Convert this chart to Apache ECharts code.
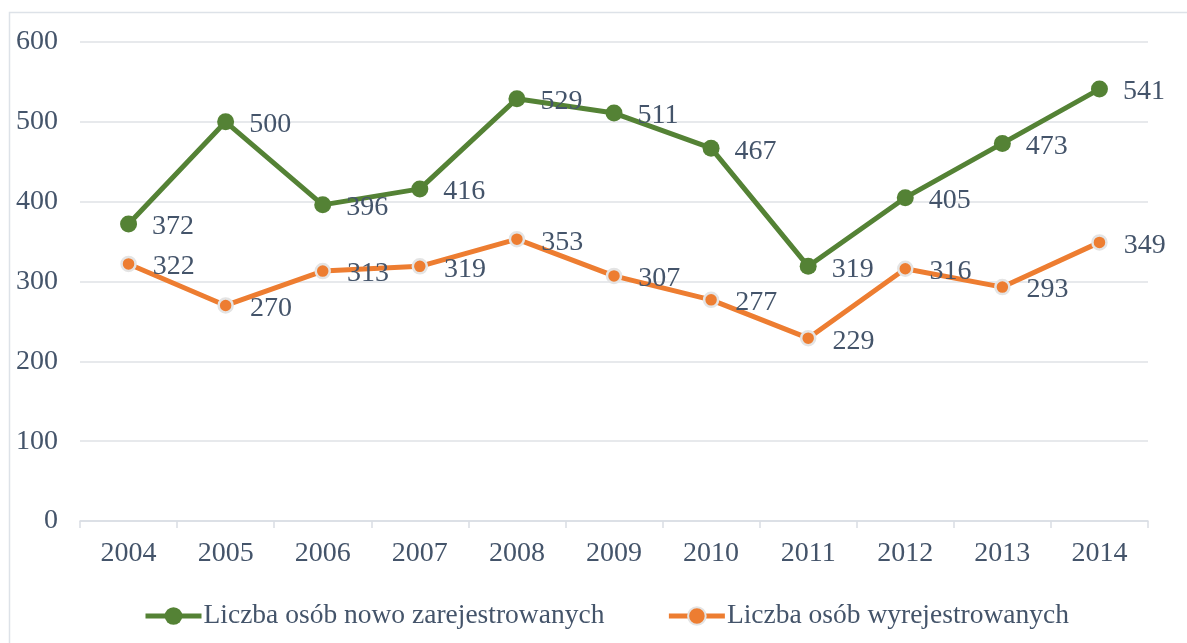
<!DOCTYPE html>
<html>
<head>
<meta charset="utf-8">
<script src="https://cdn.jsdelivr.net/npm/echarts@6/dist/echarts.min.js"></script>
<style>
html,body{margin:0;padding:0;background:#fff;}
#chart{width:1187px;height:643px;}
</style>
</head>
<body>
<div id="chart"></div>
<script>
const categories = ['2004','2005','2006','2007','2008','2009','2010','2011','2012','2013','2014'];
const newRegistered = [372,500,396,416,529,511,467,319,405,473,541];
const deregistered = [322,270,313,319,353,307,277,229,316,293,349];
const seriesNames = ['Liczba osób nowo zarejestrowanych','Liczba osób wyrejestrowanych'];

const textColor = '#44546A';
const fontFamily = '"Liberation Serif", "Times New Roman", serif';
const fs = 28;
const chart = echarts.init(document.getElementById('chart'));
chart.setOption({
  animation: false,
  backgroundColor: '#fff',
  graphic: [{
    type: 'rect', silent: true,
    shape: {x: 9.5, y: 12.5, width: 1200, height: 700},
    style: {fill: 'none', stroke: '#dde2e8', lineWidth: 1.5}
  }],
  grid: {left: 80, right: 39, top: 42, bottom: 122},
  legend: {
    left: 138, top: 597,
    itemWidth: 56, itemHeight: 22, itemGap: 62,
    lineStyle: {width: 5},
    textStyle: {fontFamily: fontFamily, fontSize: 27.5, color: textColor, padding: [0,0,0,-3]},
    data: seriesNames
  },
  xAxis: {
    type: 'category',
    data: categories,
    boundaryGap: true,
    axisLine: {lineStyle: {color: '#d9dde3', width: 1.5}},
    axisTick: {show: true, length: 7, lineStyle: {color: '#d9dde3', width: 1.5}},
    axisLabel: {fontFamily: fontFamily, fontSize: fs, color: textColor, margin: 19}
  },
  yAxis: {
    type: 'value', min: 0, max: 600, interval: 100,
    axisLine: {show: false}, axisTick: {show: false},
    splitLine: {lineStyle: {color: '#dfe2e6', width: 1.5}},
    axisLabel: {fontFamily: fontFamily, fontSize: fs, color: textColor, margin: 22}
  },
  series: [
    {
      name: seriesNames[0], type: 'line', data: newRegistered,
      symbol: 'circle', symbolSize: 17,
      lineStyle: {color: '#548235', width: 5},
      itemStyle: {color: '#548235'},
      label: {show: true, position: 'right', distance: 15, offset: [0, 3],
        fontFamily: fontFamily, fontSize: fs, color: textColor}
    },
    {
      name: seriesNames[1], type: 'line', data: deregistered,
      symbol: 'circle', symbolSize: 14,
      lineStyle: {color: '#ED7D31', width: 5},
      itemStyle: {color: '#ED7D31', borderColor: '#e4e4e4', borderWidth: 2.5},
      label: {show: true, position: 'right', distance: 16, offset: [0, 3],
        fontFamily: fontFamily, fontSize: fs, color: textColor}
    }
  ]
});
</script>
</body>
</html>
